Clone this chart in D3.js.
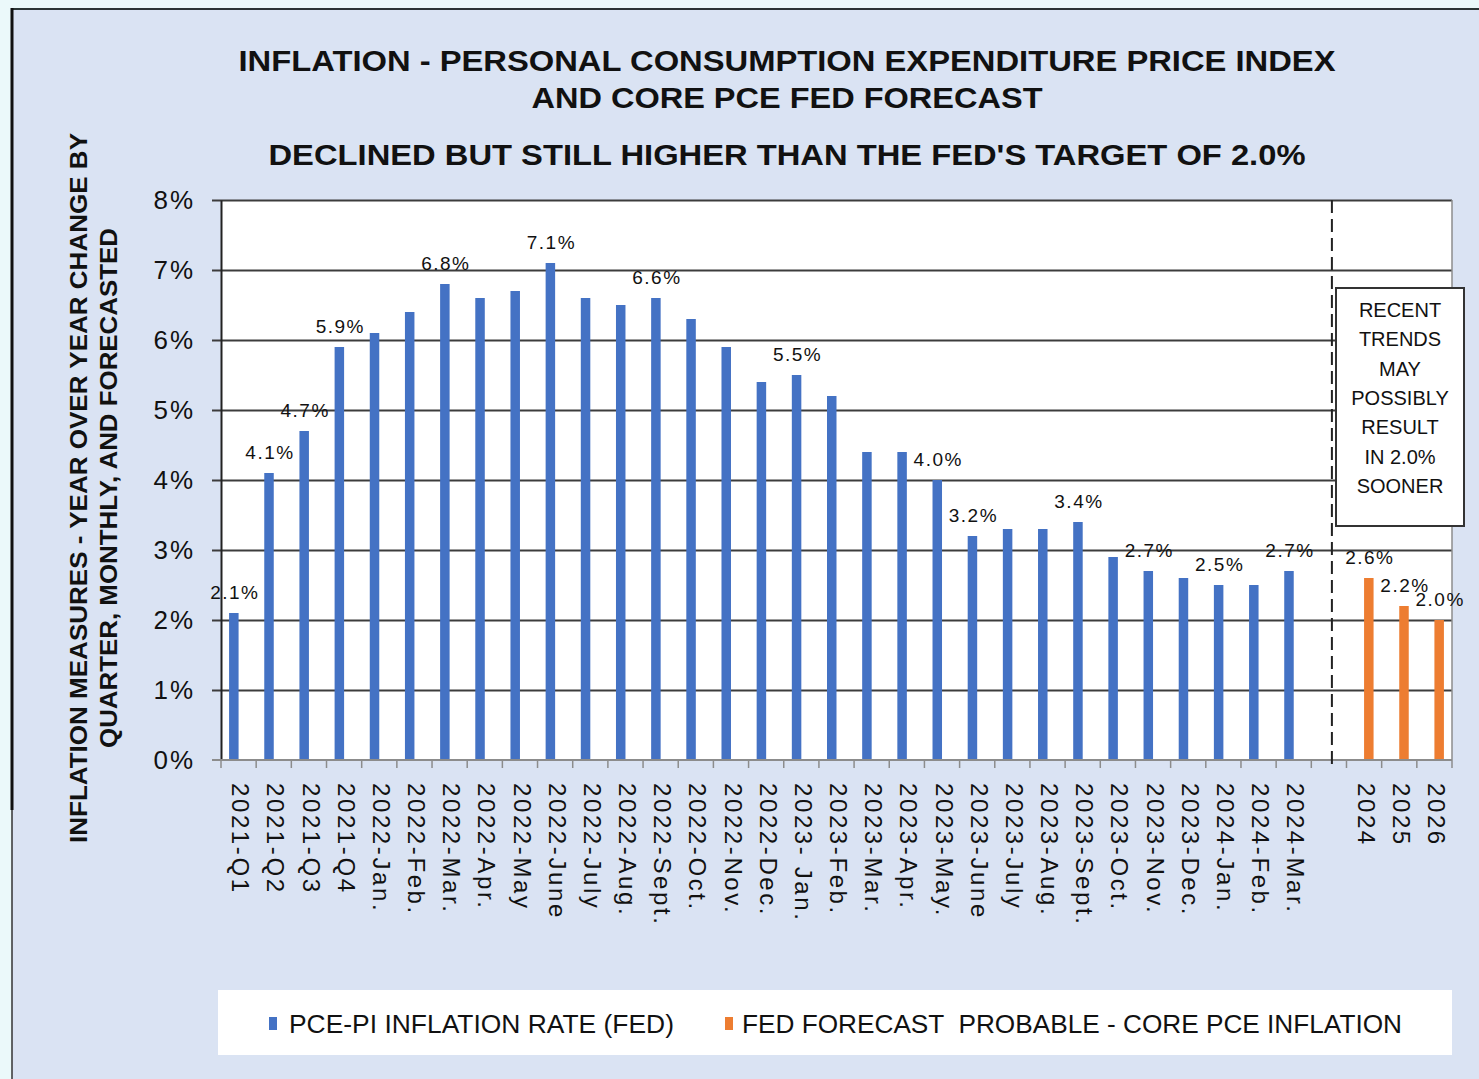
<!DOCTYPE html>
<html>
<head>
<meta charset="utf-8">
<script src="https://cdn.jsdelivr.net/npm/d3@7"></script>
<style>
  html, body { margin: 0; padding: 0; background: #ebf9fa; }
  svg { display: block; }
  text { font-family: "Liberation Sans", Arial, sans-serif; fill: #111; }
</style>
</head>
<body>
<div id="chart"></div>
<script>
// data
const monthCats = [
  "2021-Q1", "2021-Q2", "2021-Q3", "2021-Q4",
  "2022-Jan.", "2022-Feb.", "2022-Mar.", "2022-Apr.", "2022-May", "2022-June",
  "2022-July", "2022-Aug.", "2022-Sept.", "2022-Oct.", "2022-Nov.", "2022-Dec.",
  "2023- Jan.", "2023-Feb.", "2023-Mar.", "2023-Apr.", "2023-May.", "2023-June",
  "2023-July", "2023-Aug.", "2023-Sept.", "2023-Oct.", "2023-Nov.", "2023-Dec.",
  "2024-Jan.", "2024-Feb.", "2024-Mar."
];
const pceValues = [
  2.1, 4.1, 4.7, 5.9,
  6.1, 6.4, 6.8, 6.6, 6.7, 7.1,
  6.6, 6.5, 6.6, 6.3, 5.9, 5.4,
  5.5, 5.2, 4.4, 4.4, 4.0, 3.2,
  3.3, 3.3, 3.4, 2.9, 2.7, 2.6,
  2.5, 2.5, 2.7
];
// which monthly bars carry a value label
const pceLabelled = [
  "2021-Q1", "2021-Q2", "2021-Q3", "2021-Q4", "2022-Mar.", "2022-June", "2022-Sept.",
  "2023- Jan.", "2023-May.", "2023-June", "2023-Sept.", "2023-Nov.", "2024-Jan.", "2024-Mar."
];
const gapCat = " ";
const forecastCats = ["2024", "2025", "2026"];
const forecastValues = [2.6, 2.2, 2.0];
const yTicks = [0, 1, 2, 3, 4, 5, 6, 7, 8];
const seriesNames = ["PCE-PI INFLATION RATE (FED)", "FED FORECAST  PROBABLE - CORE PCE INFLATION"];
const seriesColors = ["#4472c4", "#ed7d31"];
const noteLines = ["RECENT", "TRENDS", "MAY", "POSSIBLY", "RESULT", "IN 2.0%", "SOONER"];

const W = 1479, H = 1079;
const plot = { LEFT: 221, RIGHT: 1452, TOP: 200, BOTTOM: 760 };

const svg = d3.select("#chart").append("svg")
  .attr("width", W)
  .attr("height", H);

// outer frame + chart background
svg.append("rect")
  .attr("x", 12).attr("y", 9)
  .attr("width", W - 12).attr("height", H - 9)
  .attr("fill", "#dae3f3");
svg.append("line")
  .attr("x1", 11).attr("x2", W).attr("y1", 9).attr("y2", 9)
  .attr("stroke", "#2b3535").attr("stroke-width", 2);
svg.append("line")
  .attr("x1", 12).attr("x2", 12).attr("y1", 8).attr("y2", 810)
  .attr("stroke", "#111").attr("stroke-width", 3);
svg.append("line")
  .attr("x1", 12).attr("x2", 12).attr("y1", 810).attr("y2", H)
  .attr("stroke", "#333").attr("stroke-width", 1.5);

// titles
const titles = [
  { t: "INFLATION - PERSONAL CONSUMPTION EXPENDITURE PRICE INDEX", y: 71, len: 1097 },
  { t: "AND CORE PCE FED FORECAST", y: 108, len: 511 },
  { t: "DECLINED BUT STILL HIGHER THAN THE FED'S TARGET OF 2.0%", y: 165, len: 1037 }
];
svg.selectAll(".title")
  .data(titles)
  .enter().append("text")
  .attr("class", "title")
  .attr("x", 787)
  .attr("y", d => d.y)
  .attr("text-anchor", "middle")
  .attr("font-size", "29px")
  .attr("font-weight", "bold")
  .attr("textLength", d => d.len)
  .attr("lengthAdjust", "spacingAndGlyphs")
  .text(d => d.t);

// y axis title
const yTitle = [
  { t: "INFLATION MEASURES - YEAR OVER YEAR CHANGE BY", x: 87, len: 710 },
  { t: "QUARTER, MONTHLY, AND FORECASTED", x: 117, len: 520 }
];
svg.selectAll(".ytitle")
  .data(yTitle)
  .enter().append("text")
  .attr("class", "ytitle")
  .attr("transform", d => `translate(${d.x}, 488) rotate(-90)`)
  .attr("text-anchor", "middle")
  .attr("font-size", "24px")
  .attr("font-weight", "bold")
  .attr("textLength", d => d.len)
  .attr("lengthAdjust", "spacingAndGlyphs")
  .text(d => d.t);

// scales
const allCats = monthCats.concat([gapCat], forecastCats);
const x = d3.scaleBand()
  .domain(allCats)
  .range([plot.LEFT, plot.RIGHT]);
const bw = x.bandwidth();
const sub = d3.scaleBand()
  .domain(seriesNames)
  .range([bw / 2 - 9.5, bw / 2 + 9.5]);
const y = d3.scaleLinear()
  .domain([0, 8])
  .range([plot.BOTTOM, plot.TOP]);

// plot area
svg.append("rect")
  .attr("x", plot.LEFT).attr("y", plot.TOP)
  .attr("width", plot.RIGHT - plot.LEFT)
  .attr("height", plot.BOTTOM - plot.TOP)
  .attr("fill", "#fff");

// gridlines
const grid = svg.append("g")
  .attr("transform", `translate(${plot.RIGHT}, 0)`)
  .call(d3.axisLeft(y).tickValues(yTicks.slice(1)).tickSize(plot.RIGHT - plot.LEFT + 9).tickFormat(""));
grid.select(".domain").remove();
grid.selectAll(".tick line").attr("stroke", "#3c3c3c").attr("stroke-width", 1.8);

// right border of plot
svg.append("line")
  .attr("x1", plot.RIGHT).attr("x2", plot.RIGHT)
  .attr("y1", plot.TOP).attr("y2", plot.BOTTOM)
  .attr("stroke", "#8c8c8c").attr("stroke-width", 1.5);

// y axis
const yAxis = svg.append("g")
  .attr("transform", `translate(${plot.LEFT}, 0)`)
  .call(d3.axisLeft(y).tickValues(yTicks).tickFormat(d => d + "%").tickSize(0).tickPadding(26));
yAxis.select(".domain").attr("stroke", "#222").attr("stroke-width", 2);
yAxis.selectAll(".tick text")
  .attr("font-size", "26px")
  .attr("letter-spacing", "2px")
  .attr("font-family", "'Liberation Sans', Arial, sans-serif")
  .attr("fill", "#333");

// bars
const pceData = monthCats.map((c, i) => ({ cat: c, v: pceValues[i], s: seriesNames[0], lab: pceLabelled.includes(c) }));
const fcData = forecastCats.map((c, i) => ({ cat: c, v: forecastValues[i], s: seriesNames[1], lab: true }));
const barData = pceData.concat(fcData);

svg.selectAll(".bar")
  .data(barData)
  .enter().append("rect")
  .attr("class", "bar")
  .attr("x", d => x(d.cat) + sub(d.s))
  .attr("y", d => y(d.v))
  .attr("width", sub.bandwidth())
  .attr("height", d => y(0) - y(d.v))
  .attr("fill", d => d.s === seriesNames[0] ? seriesColors[0] : seriesColors[1]);

// value labels
svg.selectAll(".vlabel")
  .data(barData.filter(d => d.lab))
  .enter().append("text")
  .attr("class", "vlabel")
  .attr("x", d => x(d.cat) + sub(d.s) + sub.bandwidth() / 2 + 1)
  .attr("y", d => y(d.v) - 14)
  .attr("text-anchor", "middle")
  .attr("font-size", "19px")
  .attr("letter-spacing", "1.5px")
  .attr("fill", "#222")
  .text(d => d3.format(".1f")(d.v) + "%");

// x axis labels
const xAxis = svg.append("g")
  .attr("transform", `translate(0, ${plot.BOTTOM})`)
  .call(d3.axisBottom(x).tickSize(0));
xAxis.select(".domain").remove();
xAxis.selectAll(".tick text")
  .attr("transform", "translate(2, 0) rotate(90)")
  .attr("x", 23)
  .attr("y", 0)
  .attr("dy", "0.35em")
  .attr("text-anchor", "start")
  .attr("font-size", "24px")
  .attr("letter-spacing", "2.6px")
  .attr("font-family", "'Liberation Sans', Arial, sans-serif")
  .attr("fill", "#111");

// category boundary ticks + baseline
const bounds = allCats.map(c => x(c)).concat([plot.RIGHT]);
svg.selectAll(".xtick")
  .data(bounds)
  .enter().append("line")
  .attr("class", "xtick")
  .attr("x1", d => d).attr("x2", d => d)
  .attr("y1", plot.BOTTOM).attr("y2", plot.BOTTOM + 8)
  .attr("stroke", "#8c8c8c").attr("stroke-width", 1.5);
svg.append("line")
  .attr("x1", plot.LEFT - 9).attr("x2", plot.RIGHT)
  .attr("y1", plot.BOTTOM).attr("y2", plot.BOTTOM)
  .attr("stroke", "#8c8c8c").attr("stroke-width", 2);

// dashed separator between actuals and forecast
const sepX = x(gapCat) + bw / 2 + 3;
svg.append("line")
  .attr("x1", sepX).attr("x2", sepX)
  .attr("y1", plot.TOP).attr("y2", plot.BOTTOM + 10)
  .attr("stroke", "#222").attr("stroke-width", 2)
  .attr("stroke-dasharray", "13,6");

// note box
svg.append("rect")
  .attr("x", 1336).attr("y", 288)
  .attr("width", 128).attr("height", 238)
  .attr("fill", "#fff")
  .attr("stroke", "#333").attr("stroke-width", 2);
svg.selectAll(".note")
  .data(noteLines)
  .enter().append("text")
  .attr("class", "note")
  .attr("x", 1400)
  .attr("y", (d, i) => 317 + i * 29.3)
  .attr("text-anchor", "middle")
  .attr("font-family", "Lato, 'Open Sans', sans-serif")
  .attr("font-size", "20px")
  .attr("fill", "#111")
  .text(d => d);

// legend
svg.append("rect")
  .attr("x", 218).attr("y", 990)
  .attr("width", 1234).attr("height", 65)
  .attr("fill", "#fff");
const legend = [
  { name: seriesNames[0], color: seriesColors[0], mx: 269, tx: 289, len: 385 },
  { name: seriesNames[1], color: seriesColors[1], mx: 725, tx: 742, len: 660 }
];
const lg = svg.selectAll(".legend")
  .data(legend)
  .enter().append("g")
  .attr("class", "legend");
lg.append("rect")
  .attr("x", d => d.mx).attr("y", 1017)
  .attr("width", 8).attr("height", 13)
  .attr("fill", d => d.color);
lg.append("text")
  .attr("x", d => d.tx)
  .attr("y", 1033)
  .attr("font-size", "26px")
  .style("white-space", "pre")
  .attr("textLength", d => d.len)
  .attr("lengthAdjust", "spacingAndGlyphs")
  .attr("fill", "#111")
  .text(d => d.name);
</script>
</body>
</html>
